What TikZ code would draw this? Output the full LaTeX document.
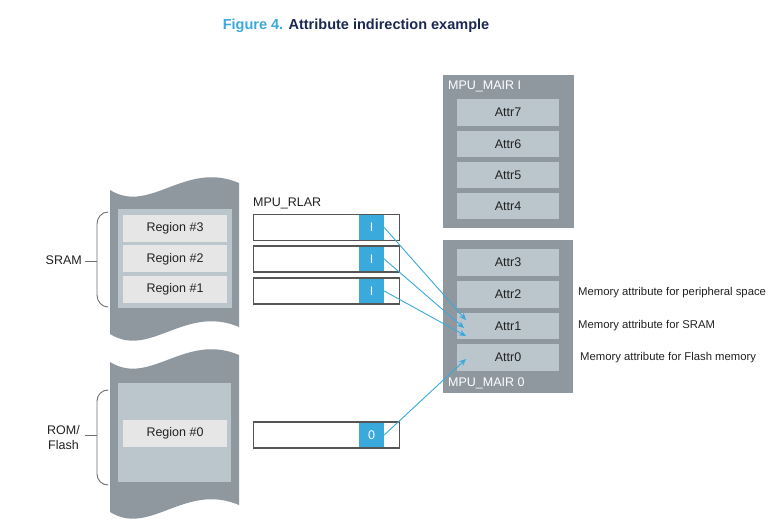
\documentclass[tikz,border=0pt]{standalone}
\usepackage{fontspec}
\setmainfont{Liberation Sans}
\usetikzlibrary{arrows.meta,positioning,calc}
\definecolor{outergrey}{HTML}{8F989F}
\definecolor{innergrey}{HTML}{BBC5CC}
\definecolor{regiongrey}{HTML}{E6E6E6}
\definecolor{cellblue}{HTML}{3AA9DC}
\definecolor{boxborder}{HTML}{555555}
\definecolor{navy}{HTML}{1C2752}
\definecolor{txt}{HTML}{222222}
\definecolor{bracegrey}{HTML}{707070}
\tikzset{
  x=1pt,y=-1pt,
  lbl/.style={font=\fontsize{12.5}{15}\selectfont, text=txt, inner sep=0pt},
  sidelbl/.style={font=\fontsize{11.3}{13}\selectfont, text=txt, inner sep=0pt, anchor=west},
  regionbox/.style={fill=regiongrey, minimum width=104pt, minimum height=27pt, inner sep=0pt, lbl},
  attrbox/.style={fill=innergrey, minimum width=102pt, minimum height=26.5pt, inner sep=0pt, lbl},
  rlarbox/.style={draw=boxborder, line width=1.4pt, minimum width=146pt, minimum height=26pt, inner sep=0pt},
  bluecell/.style={fill=cellblue, minimum width=25pt, minimum height=26pt, inner sep=0pt, text=white, font=\fontsize{12.5}{15}\selectfont},
  mairblock/.style={fill=outergrey, inner sep=0pt},
  mairlbl/.style={font=\fontsize{12.5}{15}\selectfont, text=white, inner sep=0pt, anchor=west},
  bracestyle/.style={draw=bracegrey, line width=0.9pt},
  link/.style={draw=cellblue, line width=0.9pt, -{Stealth[length=7pt,width=6pt]}}
}
\begin{document}
\begin{tikzpicture}
\path[use as bounding box] (0,0) rectangle (773,526);
\fill[white] (0,0) rectangle (773,526);

% title
\node[inner sep=0pt, font=\bfseries\fontsize{14.5}{17}\selectfont] (title) at (356,26)
  {\textcolor{cellblue}{Figure 4.} \textcolor{navy}{Attribute indirection example}};

% SRAM memory block
\fill[outergrey] (110,190) .. controls (150,215) and (185,160) .. (239,183)
  -- (239,327) .. controls (185,304) and (150,359) .. (110,334) -- cycle;
\fill[innergrey] (118,209) rectangle (232,308);
\node[regionbox] (r3) at (175,228.5) {Region \#3};
\node[regionbox] (r2) at (175,259) {Region \#2};
\node[regionbox] (r1) at (175,289.5) {Region \#1};

% ROM memory block
\fill[outergrey] (110,362) .. controls (150,387) and (185,332) .. (239,355)
  -- (239,505) .. controls (185,482) and (150,537) .. (110,512) -- cycle;
\fill[innergrey] (118,383) rectangle (231,482);
\node[regionbox] (r0) at (175,433) {Region \#0};

% braces and labels
\node[lbl, anchor=east] (sram) at (82,260) {SRAM};
\draw[bracestyle] (108,212) to[out=180,in=90] (97,224) -- (97,295) to[out=-90,in=180] (108,307);
\coordinate (sramtip) at (97,261);
\draw[bracestyle] ($(sram.east)+(3,1)$) -- (sramtip);

\node[lbl, anchor=east, align=center] (rom) at (80,437.5) {ROM/\\Flash};
\draw[bracestyle] (108,390) to[out=180,in=90] (97,401) -- (97,474) to[out=-90,in=180] (108,485);
\coordinate (romtip) at (97,435);
\draw[bracestyle] ($(rom.east)+(5,-2.5)$) -- (romtip);

% MPU_RLAR
\node[lbl, anchor=west] (rlar) at (253,203) {MPU\_RLAR};
\node[bluecell] (c3) at (371.5,227.5) {I};
\node[rlarbox] (b3) at (326.5,227.5) {};
\node[bluecell] (c2) at (371.5,259) {I};
\node[rlarbox] (b2) at (326.5,259) {};
\node[bluecell] (c1) at (371.5,291) {I};
\node[rlarbox] (b1) at (326.5,291) {};
\node[bluecell] (c0) at (371.5,435) {0};
\node[rlarbox] (b0) at (326.5,435) {};

% MPU_MAIR1
\fill[mairblock] (443,75) rectangle (574,228);
\node[mairlbl] (mair1) at (448,86) {MPU\_MAIR I};
\node[attrbox] (a7) at (508,112.5) {Attr7};
\node[attrbox] (a6) at (508,144) {Attr6};
\node[attrbox] (a5) at (508,175) {Attr5};
\node[attrbox] (a4) at (508,206) {Attr4};

% MPU_MAIR0
\fill[mairblock] (443,240) rectangle (573,393);
\node[attrbox] (a3) at (508,262.5) {Attr3};
\node[attrbox] (a2) at (508,294.5) {Attr2};
\node[attrbox] (a1) at (508,326) {Attr1};
\node[attrbox] (a0) at (508,357.5) {Attr0};
\node[mairlbl] (mair0) at (448,383) {MPU\_MAIR 0};

% side labels
\node[sidelbl] (s2) at (578,293) {Memory attribute for peripheral space};
\node[sidelbl] (s1) at (578,326) {Memory attribute for SRAM};
\node[sidelbl] (s0) at (580,358) {Memory attribute for Flash memory};

% links
\coordinate (e3) at (466,320);
\coordinate (e2) at (464,328);
\coordinate (e1) at (466,336);
\coordinate (e0) at (466,359);
\draw[link] (c3.east) -- (e3);
\draw[link] (c2.east) -- (e2);
\draw[link] (c1.east) -- (e1);
\draw[link] (c0.east) -- (e0);
\end{tikzpicture}
\end{document}
